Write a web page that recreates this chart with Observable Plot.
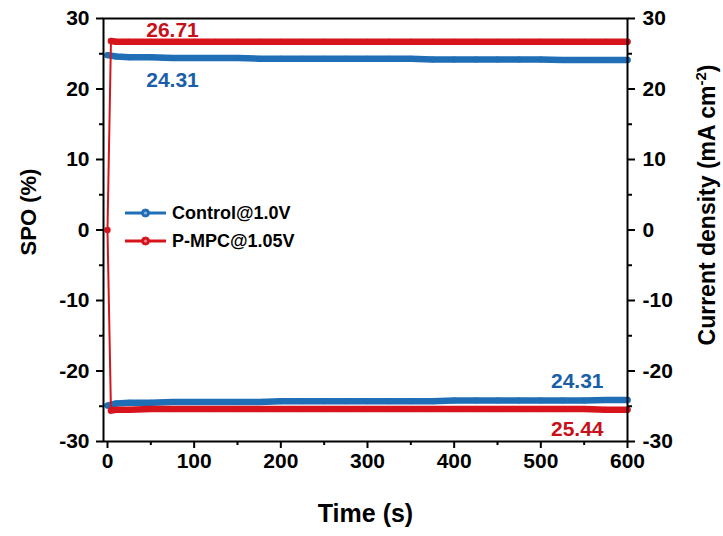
<!DOCTYPE html>
<html>
<head>
<meta charset="utf-8">
<script src="https://cdn.jsdelivr.net/npm/d3@7"></script>
<script src="https://cdn.jsdelivr.net/npm/@observablehq/plot@0.6"></script>
<style>
  body { margin: 0; background: #fff; }
  svg { font-family: "Liberation Sans", Arial, sans-serif; }
</style>
</head>
<body>
<div id="chart"></div>
<script>
// ---- data ----
const blueTimes = [0,10,25,50,75,100,125,150,175,200,225,250,275,300,325,350,375,400,425,450,475,500,525,550,575,600];
const blueSPO = [24.8,24.6,24.5,24.5,24.4,24.4,24.4,24.4,24.3,24.3,24.3,24.3,24.3,24.3,24.3,24.3,24.2,24.2,24.2,24.2,24.2,24.2,24.1,24.1,24.1,24.1];
const blueJ = [-24.9,-24.6,-24.5,-24.5,-24.4,-24.4,-24.4,-24.4,-24.4,-24.3,-24.3,-24.3,-24.3,-24.3,-24.3,-24.3,-24.3,-24.2,-24.2,-24.2,-24.2,-24.2,-24.2,-24.2,-24.1,-24.1];

const redTimes = [0,4,10,25,50,75,100,125,150,175,200,225,250,275,300,325,350,375,400,425,450,475,500,525,550,575,600];
const redSPO = [0,26.8,26.7,26.7,26.7,26.7,26.7,26.7,26.7,26.7,26.7,26.7,26.7,26.7,26.7,26.7,26.7,26.7,26.7,26.7,26.7,26.7,26.7,26.7,26.7,26.7,26.7];
const redJ = [0,-25.6,-25.5,-25.5,-25.4,-25.4,-25.4,-25.4,-25.4,-25.4,-25.4,-25.4,-25.4,-25.4,-25.4,-25.4,-25.4,-25.4,-25.4,-25.4,-25.4,-25.4,-25.4,-25.4,-25.4,-25.5,-25.5];

const seriesNames = ["Control@1.0V", "P-MPC@1.05V"];
const seriesColors = ["#1f6eb6", "#d7141c"];
const textColors = ["#1a5ea8", "#c8101a"];

const annotText = ["26.71", "24.31", "24.31", "25.44"];
const annotSeries = [1, 0, 0, 1];
const annotX = [75, 75, 542, 542];
const annotY = [28.3, 21.2, -21.5, -28.2];

const xMajor = [0,100,200,300,400,500,600];
const xMinor = [50,150,250,350,450,550];
const yMajor = [-30,-20,-10,0,10,20,30];
const yMinor = [-25,-15,-5,5,15,25];

// ---- tables ----
const blueSPOData = blueTimes.map((t,i) => ({t, v: blueSPO[i]}));
const blueJData = blueTimes.map((t,i) => ({t, v: blueJ[i]}));
const redSPOData = redTimes.map((t,i) => ({t, v: redSPO[i]}));
const redJData = redTimes.map((t,i) => ({t, v: redJ[i]}));
const annots = annotText.map((s,i) => ({s, x: annotX[i], y: annotY[i], c: textColors[annotSeries[i]]}));

const bw = 6.5;
const fmt = d => String(d);
const font = {fontSize: 21, fontWeight: "bold", fill: "black", tickFormat: fmt};

const chart = Plot.plot({
  width: 723,
  height: 536,
  marginLeft: 103,
  marginRight: 96,
  marginTop: 18,
  marginBottom: 95,
  x: {domain: [-4.6, 600]},
  y: {domain: [-30, 30]},
  style: {fontFamily: "'Liberation Sans', Arial, sans-serif", color: "black", overflow: "visible"},
  marks: [
    // blue series
    Plot.line(blueSPOData, {x: "t", y: "v", stroke: seriesColors[0], strokeWidth: bw}),
    Plot.line(blueJData, {x: "t", y: "v", stroke: seriesColors[0], strokeWidth: bw}),
    Plot.dot(blueSPOData, {x: "t", y: "v", fill: seriesColors[0], r: 3}),
    Plot.dot(blueJData, {x: "t", y: "v", fill: seriesColors[0], r: 3}),
    // red series: thin rise + thick band
    Plot.line(redSPOData, {x: "t", y: "v", stroke: seriesColors[1], strokeWidth: 2}),
    Plot.line(redJData, {x: "t", y: "v", stroke: seriesColors[1], strokeWidth: 2}),
    Plot.line(redSPOData.slice(1), {x: "t", y: "v", stroke: seriesColors[1], strokeWidth: bw}),
    Plot.line(redJData.slice(1), {x: "t", y: "v", stroke: seriesColors[1], strokeWidth: bw}),
    Plot.dot(redSPOData.slice(1), {x: "t", y: "v", fill: seriesColors[1], r: 3}),
    Plot.dot(redJData.slice(1), {x: "t", y: "v", fill: seriesColors[1], r: 3}),
    Plot.dot(redSPOData.slice(0,1), {x: "t", y: "v", fill: seriesColors[1], r: 3.2}),
    // annotations
    Plot.text(annots, {x: "x", y: "y", text: "s", fill: "c", fontSize: 21, fontWeight: "bold"}),
    // frame
    Plot.frame({stroke: "black", strokeWidth: 2}),
    // axes
    Plot.axisX(xMajor, {tickSize: 7, tickPadding: 5, strokeWidth: 2, label: null, ...font}),
    Plot.axisX(xMinor, {tickSize: 4, strokeWidth: 2, label: null, tickFormat: () => ""}),
    Plot.axisY(yMajor, {anchor: "left", tickSize: 7, tickPadding: 7, strokeWidth: 2, label: null, ...font}),
    Plot.axisY(yMinor, {anchor: "left", tickSize: 4, strokeWidth: 2, label: null, tickFormat: () => ""}),
    Plot.axisY(yMajor, {anchor: "right", tickSize: 7, tickPadding: 8, strokeWidth: 2, label: null, ...font}),
    Plot.axisY(yMinor, {anchor: "right", tickSize: 4, strokeWidth: 2, label: null, tickFormat: () => ""}),
    // axis titles
    Plot.text(["SPO (%)"], {frameAnchor: "left", textAnchor: "middle", dx: -75, dy: -18, rotate: -90, fontSize: 22, fontWeight: "bold", fill: "black"}),
    Plot.text(["Current density (mA cm-2)"], {frameAnchor: "right", textAnchor: "middle", dx: 80, dy: -25, rotate: -90, fontSize: 23, fontWeight: "bold", fill: "black"}),
    Plot.text(["Time (s)"], {frameAnchor: "bottom", dy: 72, lineAnchor: "middle", fontSize: 25, fontWeight: "bold", fill: "black"})
  ]
});

document.getElementById("chart").appendChild(chart);

// superscript on the right axis title
const svg = d3.select(chart);
svg.selectAll("text").each(function() {
  if (this.textContent === "Current density (mA cm-2)") {
    const t = d3.select(this);
    t.text("");
    t.append("tspan").text("Current density (mA cm");
    t.append("tspan").attr("dy", -9).attr("font-size", 15).text("-2");
    t.append("tspan").attr("dy", 9).text(")");
  }
});

// legend
const legend = svg.append("g").attr("font-size", 18).attr("font-weight", "bold").attr("text-anchor", "start");
seriesNames.forEach((name, i) => {
  const y = 213 + i * 28;
  legend.append("line").attr("x1", 125).attr("x2", 166).attr("y1", y).attr("y2", y)
    .attr("stroke", seriesColors[i]).attr("stroke-width", 3);
  legend.append("circle").attr("cx", 145.5).attr("cy", y).attr("r", 4)
    .attr("fill", seriesColors[i]).attr("stroke", seriesColors[i]).attr("stroke-width", 1);
  legend.append("circle").attr("cx", 145.5).attr("cy", y).attr("r", 1.5)
    .attr("fill", "#fff").attr("opacity", 0.5);
  legend.append("text").attr("x", 172).attr("y", y).attr("dy", "0.35em")
    .attr("text-anchor", "start").attr("fill", "black").text(name);
});
</script>
</body>
</html>
